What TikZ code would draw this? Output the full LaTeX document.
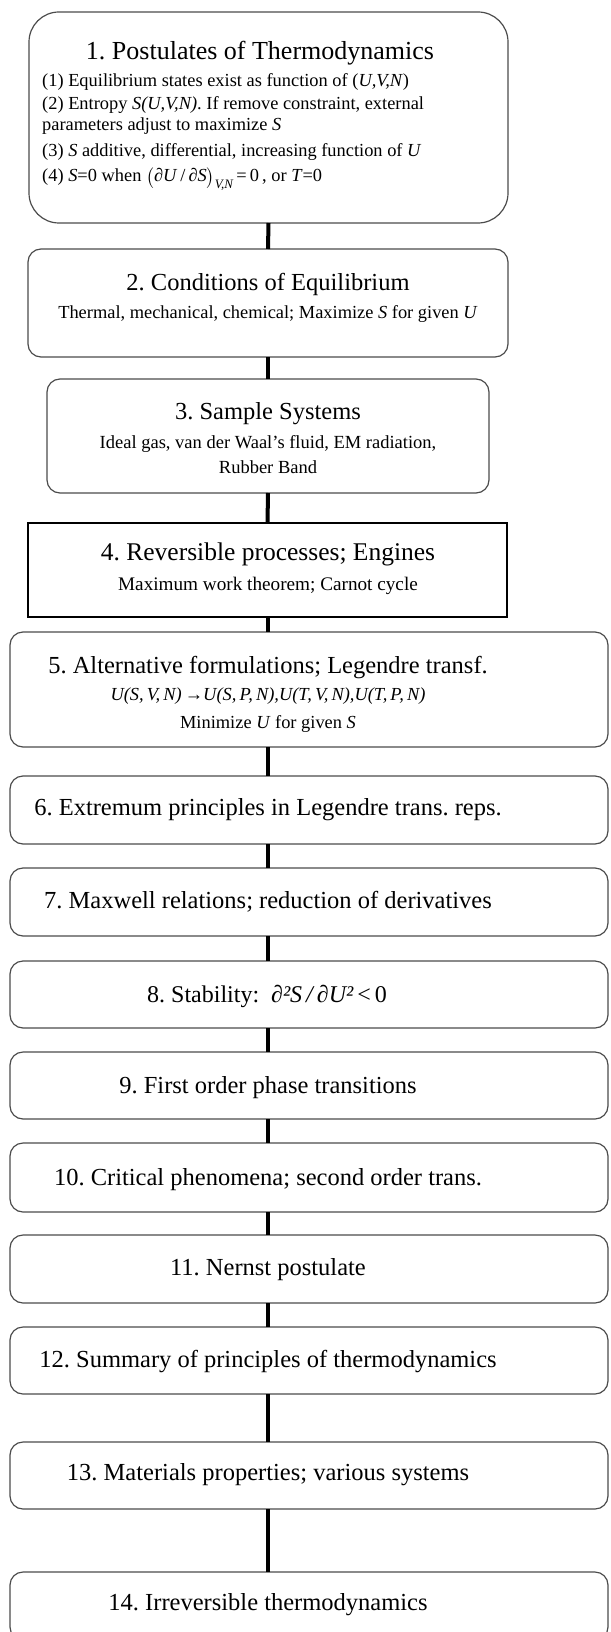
\documentclass[tikz,border=0pt]{standalone}
\usepackage{amsmath}
\usepackage{fontspec}
\setmainfont{Liberation Serif}
\frenchspacing
\begin{document}
\begin{tikzpicture}[x=1pt,y=-1pt,
  topic/.style={draw=black!70, line width=1.2pt, rounded corners=13pt, inner sep=0pt, outer sep=0pt},
  wide/.style={topic, minimum width=598pt, minimum height=68pt},
  head/.style={anchor=base, inner sep=0pt, font=\fontsize{24.5}{28}\selectfont},
  sub/.style={anchor=base, inner sep=0pt, font=\fontsize{18.4}{22}\selectfont},
  line/.style={anchor=base west, inner sep=0pt, font=\fontsize{18.4}{22}\selectfont},
  link/.style={line width=4pt}]
\clip (0,0) rectangle (610,1632);

\node[topic, rounded corners=30pt, minimum width=479pt, minimum height=211pt] (b1) at (268.5,117.5) {};
\node[topic, minimum width=480pt, minimum height=108pt] (b2) at (268,303) {};
\node[topic, minimum width=442pt, minimum height=114pt] (b3) at (268,436) {};
\node[topic, draw=black, line width=1.6pt, sharp corners, minimum width=479pt, minimum height=94pt] (b4) at (267.5,570) {};
\node[wide, minimum height=115pt] (b5) at (309,689.5) {};
\node[wide] (b6) at (309,810) {};
\node[wide] (b7) at (309,902) {};
\node[wide, minimum height=67pt] (b8) at (309,994.5) {};
\node[wide, minimum height=67pt] (b9) at (309,1085.5) {};
\node[wide, minimum height=69pt] (b10) at (309,1177.5) {};
\node[wide] (b11) at (309,1269) {};
\node[wide, minimum height=67pt] (b12) at (309,1360.5) {};
\node[wide, minimum height=67pt] (b13) at (309,1475.5) {};
\node[wide] (b14) at (309,1606) {};

\node[head, font=\fontsize{26}{30}\selectfont] (t1) at (260,60) {1. Postulates of Thermodynamics};
\node[line] (l1) at (42,87) {(1) Equilibrium states exist as function of (\textit{U,V,N})};
\node[line] (l2) at (42,110) {(2) Entropy \textit{S(U,V,N)}. If remove constraint, external};
\node[line] (l3) at (42,131) {parameters adjust to maximize \textit{S}};
\node[line] (l4) at (42,157) {(3) \textit{S} additive, differential, increasing function of \textit{U}};
\node[line] (l5) at (42,182) {(4) \textit{S}=0 when $\bigl($∂\textit{U}\,/\,∂\textit{S}$\bigr)_{\textit{V,N}}$\,=\,0\,, or \textit{T}=0};

\node[head] (t2) at (268,290) {2. Conditions of Equilibrium};
\node[sub] (s2) at (268,318) {Thermal, mechanical, chemical; Maximize \textit{S} for given \textit{U}};

\node[head] (t3) at (268,419) {3. Sample Systems};
\node[sub, font=\fontsize{18.5}{22}\selectfont] (s3) at (268,448) {Ideal gas, van der Waal’s fluid, EM radiation,};
\node[sub, font=\fontsize{18.5}{22}\selectfont] (r3) at (268,473) {Rubber Band};

\node[head, font=\fontsize{25.5}{30}\selectfont] (t4) at (268,560) {4. Reversible processes; Engines};
\node[sub, font=\fontsize{19.2}{22}\selectfont] (s4) at (268,590) {Maximum work theorem; Carnot cycle};

\node[head] (t5) at (268,673) {5. Alternative formulations; Legendre transf.};
\node[sub] (s5) at (268,700) {\textit{U(S,\,V,\,N)}\,→\textit{U(S,\,P,\,N),U(T,\,V,\,N),U(T,\,P,\,N)}};
\node[sub] (r5) at (268,728) {Minimize \textit{U} for given \textit{S}};

\node[head] (t6) at (268,815) {6. Extremum principles in Legendre trans. reps.};
\node[head] (t7) at (268,908) {7. Maxwell relations; reduction of derivatives};
\node[head, font=\fontsize{24}{28}\selectfont] (t8) at (267,1002) {8. Stability:\ \ {\itshape ∂²S\,/\,∂U²}\,<\,0};
\node[head] (t9) at (268,1093) {9. First order phase transitions};
\node[head] (t10) at (268,1185) {10. Critical phenomena; second order trans.};
\node[head] (t11) at (268,1275) {11. Nernst postulate};
\node[head] (t12) at (268,1367) {12. Summary of principles of thermodynamics};
\node[head] (t13) at (268,1480) {13. Materials properties; various systems};
\node[head] (t14) at (268,1610) {14. Irreversible thermodynamics};

\draw[link] (b1.south) -- (b2.north);
\draw[link] (b2.south) -- (b3.north);
\draw[link] (b3.south) -- (b4.north);
\draw[link] (b4.south) -- (b4.south |- b5.north);
\draw[link] (b4.south |- b5.south) -- (b4.south |- b6.north);
\draw[link] (b4.south |- b6.south) -- (b4.south |- b7.north);
\draw[link] (b4.south |- b7.south) -- (b4.south |- b8.north);
\draw[link] (b4.south |- b8.south) -- (b4.south |- b9.north);
\draw[link] (b4.south |- b9.south) -- (b4.south |- b10.north);
\draw[link] (b4.south |- b10.south) -- (b4.south |- b11.north);
\draw[link] (b4.south |- b11.south) -- (b4.south |- b12.north);
\draw[link] (b4.south |- b12.south) -- (b4.south |- b13.north);
\draw[link] (b4.south |- b13.south) -- (b4.south |- b14.north);
\end{tikzpicture}
\end{document}
